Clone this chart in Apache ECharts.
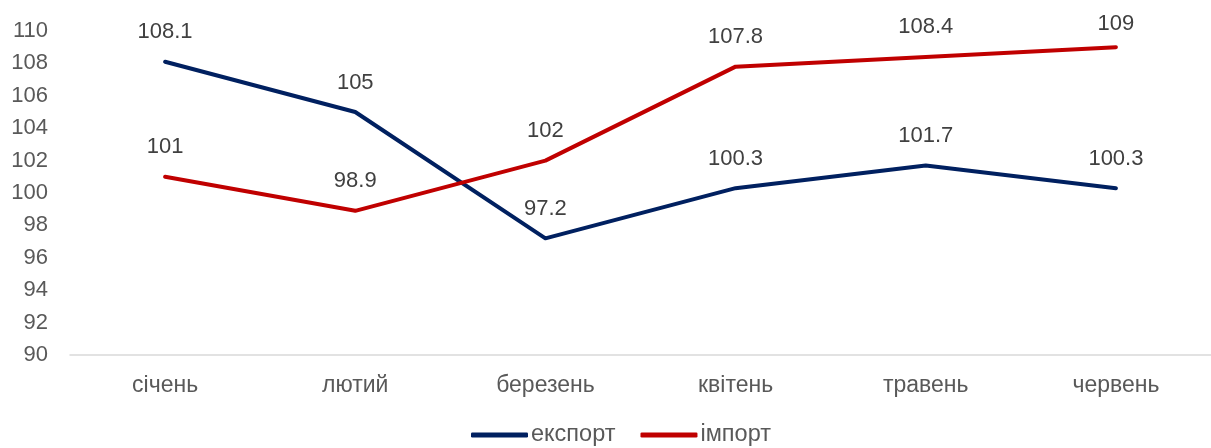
<!DOCTYPE html>
<html><head><meta charset="utf-8">
<script src="https://cdn.jsdelivr.net/npm/echarts@6/dist/echarts.min.js"></script>
<style>html,body{margin:0;padding:0;background:#fff}#c{width:1211px;height:448px}</style>
</head><body><div id="c"></div>
<script>
const categories = ['січень','лютий','березень','квітень','травень','червень'];
const exportValues = [108.1, 105, 97.2, 100.3, 101.7, 100.3];
const importValues = [101, 98.9, 102, 107.8, 108.4, 109];
const seriesNames = ['експорт','імпорт'];
const yMin = 90, yMax = 110, yStep = 2;

const font = 'Liberation Sans, Arial, sans-serif';
const fs = 22, fsAxis = 23;
const chart = echarts.init(document.getElementById('c'));
const labelCfg = {show:true, position:'top', distance:18, fontSize:fs, color:'#404040', fontFamily:font};
// labels near the top edge are nudged down to stay inside the plot
const withLabels = vals => vals.map(v => v > 108.8 ? {value:v, label:{distance:12}} : v);
chart.setOption({
  animation:false,
  grid:{left:70, right:0, top:31, bottom:93, containLabel:false},
  legend:{
    top:423, left:471, padding:0, itemWidth:57, itemHeight:5, itemGap:25, icon:'roundRect',
    textStyle:{fontSize:23.5, color:'#595959', fontFamily:font, padding:[0,0,0,-2]},
    data:seriesNames
  },
  xAxis:{
    type:'category', data:categories, boundaryGap:true,
    axisLine:{lineStyle:{color:'#d9d9d9', width:1.5}},
    axisTick:{show:false},
    axisLabel:{fontSize:fsAxis, color:'#595959', fontFamily:font, margin:19}
  },
  yAxis:{
    type:'value', min:yMin, max:yMax, interval:yStep,
    axisLine:{show:false}, axisTick:{show:false}, splitLine:{show:false},
    axisLabel:{fontSize:fs, color:'#595959', fontFamily:font, margin:22}
  },
  series:[
    {name:seriesNames[0], type:'line', data:withLabels(exportValues), symbol:'circle', symbolSize:1, showSymbol:true,
     itemStyle:{color:'#002060'}, lineStyle:{color:'#002060', width:4, cap:'round', join:'round'}, label:labelCfg},
    {name:seriesNames[1], type:'line', data:withLabels(importValues), symbol:'circle', symbolSize:1, showSymbol:true,
     itemStyle:{color:'#C00000'}, lineStyle:{color:'#C00000', width:4, cap:'round', join:'round'}, label:labelCfg}
  ]
});
</script></body></html>
